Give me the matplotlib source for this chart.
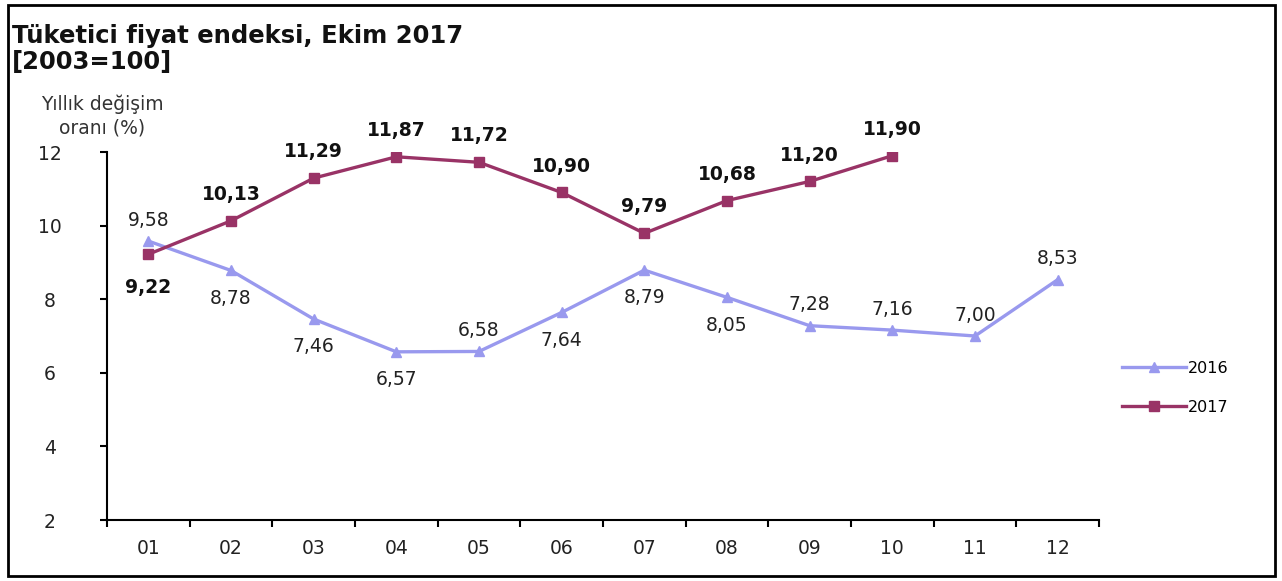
import matplotlib
matplotlib.use("Agg")
import matplotlib.pyplot as plt
from matplotlib.patches import Rectangle

months = ["01", "02", "03", "04", "05", "06", "07", "08", "09", "10", "11", "12"]
y2016 = [9.58, 8.78, 7.46, 6.57, 6.58, 7.64, 8.79, 8.05, 7.28, 7.16, 7.00, 8.53]
y2017 = [9.22, 10.13, 11.29, 11.87, 11.72, 10.90, 9.79, 10.68, 11.20, 11.90]
lab2016_pos = ["above", "below", "below", "below", "above", "below", "below", "below", "above", "above", "above", "above"]
lab2017_pos = ["below", "above", "above", "above", "above", "above", "above", "above", "above", "above"]

c16 = "#9999EE"
c17 = "#993366"

plt.rcParams['font.family'] = ['DejaVu Sans']
fig = plt.figure(figsize=(12.82, 5.81), dpi=100)
ax = fig.add_axes([107/1282, 1-520/581, (1099-107)/1282, (520-152)/581])

x = list(range(len(months)))
ax.plot(x, y2016, color=c16, lw=2.4, marker="^", ms=7, label="2016")
ax.plot(x[:len(y2017)], y2017, color=c17, lw=2.4, marker="s", ms=6.5, label="2017")

def fmt(v):
    return f"{v:.2f}".replace(".", ",")

for i, v in enumerate(y2016):
    off = 15 if lab2016_pos[i] == "above" else -20
    ax.annotate(fmt(v), (i, v), xytext=(0, off), textcoords="offset points",
                ha="center", va="center", fontsize=13.5, color="#222222")
for i, v in enumerate(y2017):
    off = 19 if lab2017_pos[i] == "above" else -24
    ax.annotate(fmt(v), (i, v), xytext=(0, off), textcoords="offset points",
                ha="center", va="center", fontsize=13.5, color="#111111", fontweight="bold")

ax.set_xlim(-0.5, len(months) - 0.5)
ax.set_ylim(2, 12)
ax.set_yticks([2, 4, 6, 8, 10, 12])
ax.set_xticks(x)
ax.set_xticklabels(months)
ax.set_xticks([i - 0.5 for i in range(len(months) + 1)], minor=True)
ax.tick_params(axis="x", which="major", length=0, pad=14, labelsize=13.5, labelcolor="#222222")
ax.tick_params(axis="x", which="minor", length=5, width=1.5, direction="out")
ax.tick_params(axis="y", length=5, width=1.5, direction="out", pad=36, labelsize=13.5, labelcolor="#222222")
for t in ax.get_yticklabels():
    t.set_horizontalalignment("center")
ax.spines["top"].set_visible(False)
ax.spines["right"].set_visible(False)
ax.spines["left"].set_linewidth(1.5)
ax.spines["bottom"].set_linewidth(1.5)

fig.text(12/1282, 1-49/581, "Tüketici fiyat endeksi, Ekim 2017\n[2003=100]", fontsize=17.5,
         fontweight="bold", ha="left", va="center", linespacing=1.15, color="#111111")
fig.text(102/1282, 1-116/581, "Yıllık değişim\noranı (%)", fontsize=13.5, ha="center", va="center",
         color="#333333", linespacing=1.3)

leg = fig.legend(loc="center left", bbox_to_anchor=(1108/1282, 1-388/581), frameon=False,
                 fontsize=11.5, handlelength=4, labelspacing=1.5, handletextpad=0.1)

fig.patches.append(Rectangle((8/1282, 5/581), (1275-8)/1282, (576-5)/581, transform=fig.transFigure,
                             fill=False, edgecolor="black", lw=2))

fig.savefig("out.png", dpi=100)
